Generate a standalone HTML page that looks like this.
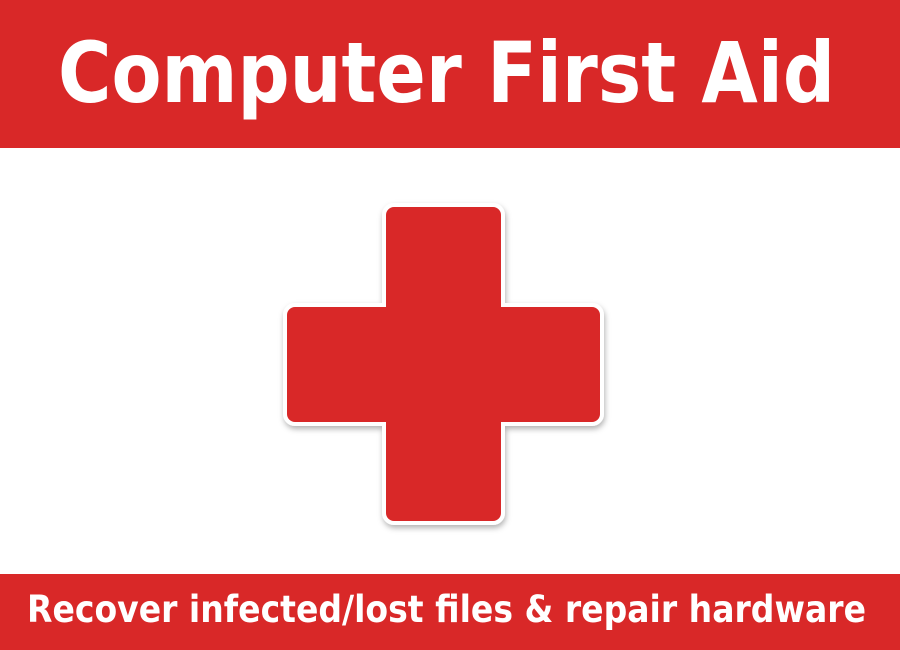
<!DOCTYPE html>
<html><head><meta charset="utf-8"><style>
html,body{margin:0;padding:0;background:#fff;}
svg{display:block;}
</style></head><body>
<svg width="900" height="650" viewBox="0 0 900 650" xmlns="http://www.w3.org/2000/svg">
<defs>
<filter id="sh" x="-20%" y="-20%" width="140%" height="140%">
<feDropShadow dx="1" dy="3" stdDeviation="3" flood-color="#000" flood-opacity="0.3"/>
</filter>
</defs>
<rect x="0" y="0" width="900" height="148" fill="#d92828"/>
<rect x="0" y="574" width="900" height="76" fill="#d92828"/>
<text x="58" y="102" textLength="777" lengthAdjust="spacingAndGlyphs" font-family="'DejaVu Sans',sans-serif" font-weight="bold" font-size="84" fill="#fff">Computer First Aid</text>
<text x="27" y="622" textLength="839" lengthAdjust="spacingAndGlyphs" font-family="'DejaVu Sans',sans-serif" font-weight="bold" font-size="37" fill="#fff">Recover infected/lost files &amp; repair hardware</text>
<g filter="url(#sh)" fill="#fff">
<rect x="382" y="203" width="123" height="322" rx="12"/>
<rect x="283" y="303" width="321" height="123" rx="12"/>
</g>
<g fill="#d92828">
<rect x="386" y="207" width="115" height="314" rx="8"/>
<rect x="287" y="307" width="313" height="115" rx="8"/>
</g>
</svg>
</body></html>
